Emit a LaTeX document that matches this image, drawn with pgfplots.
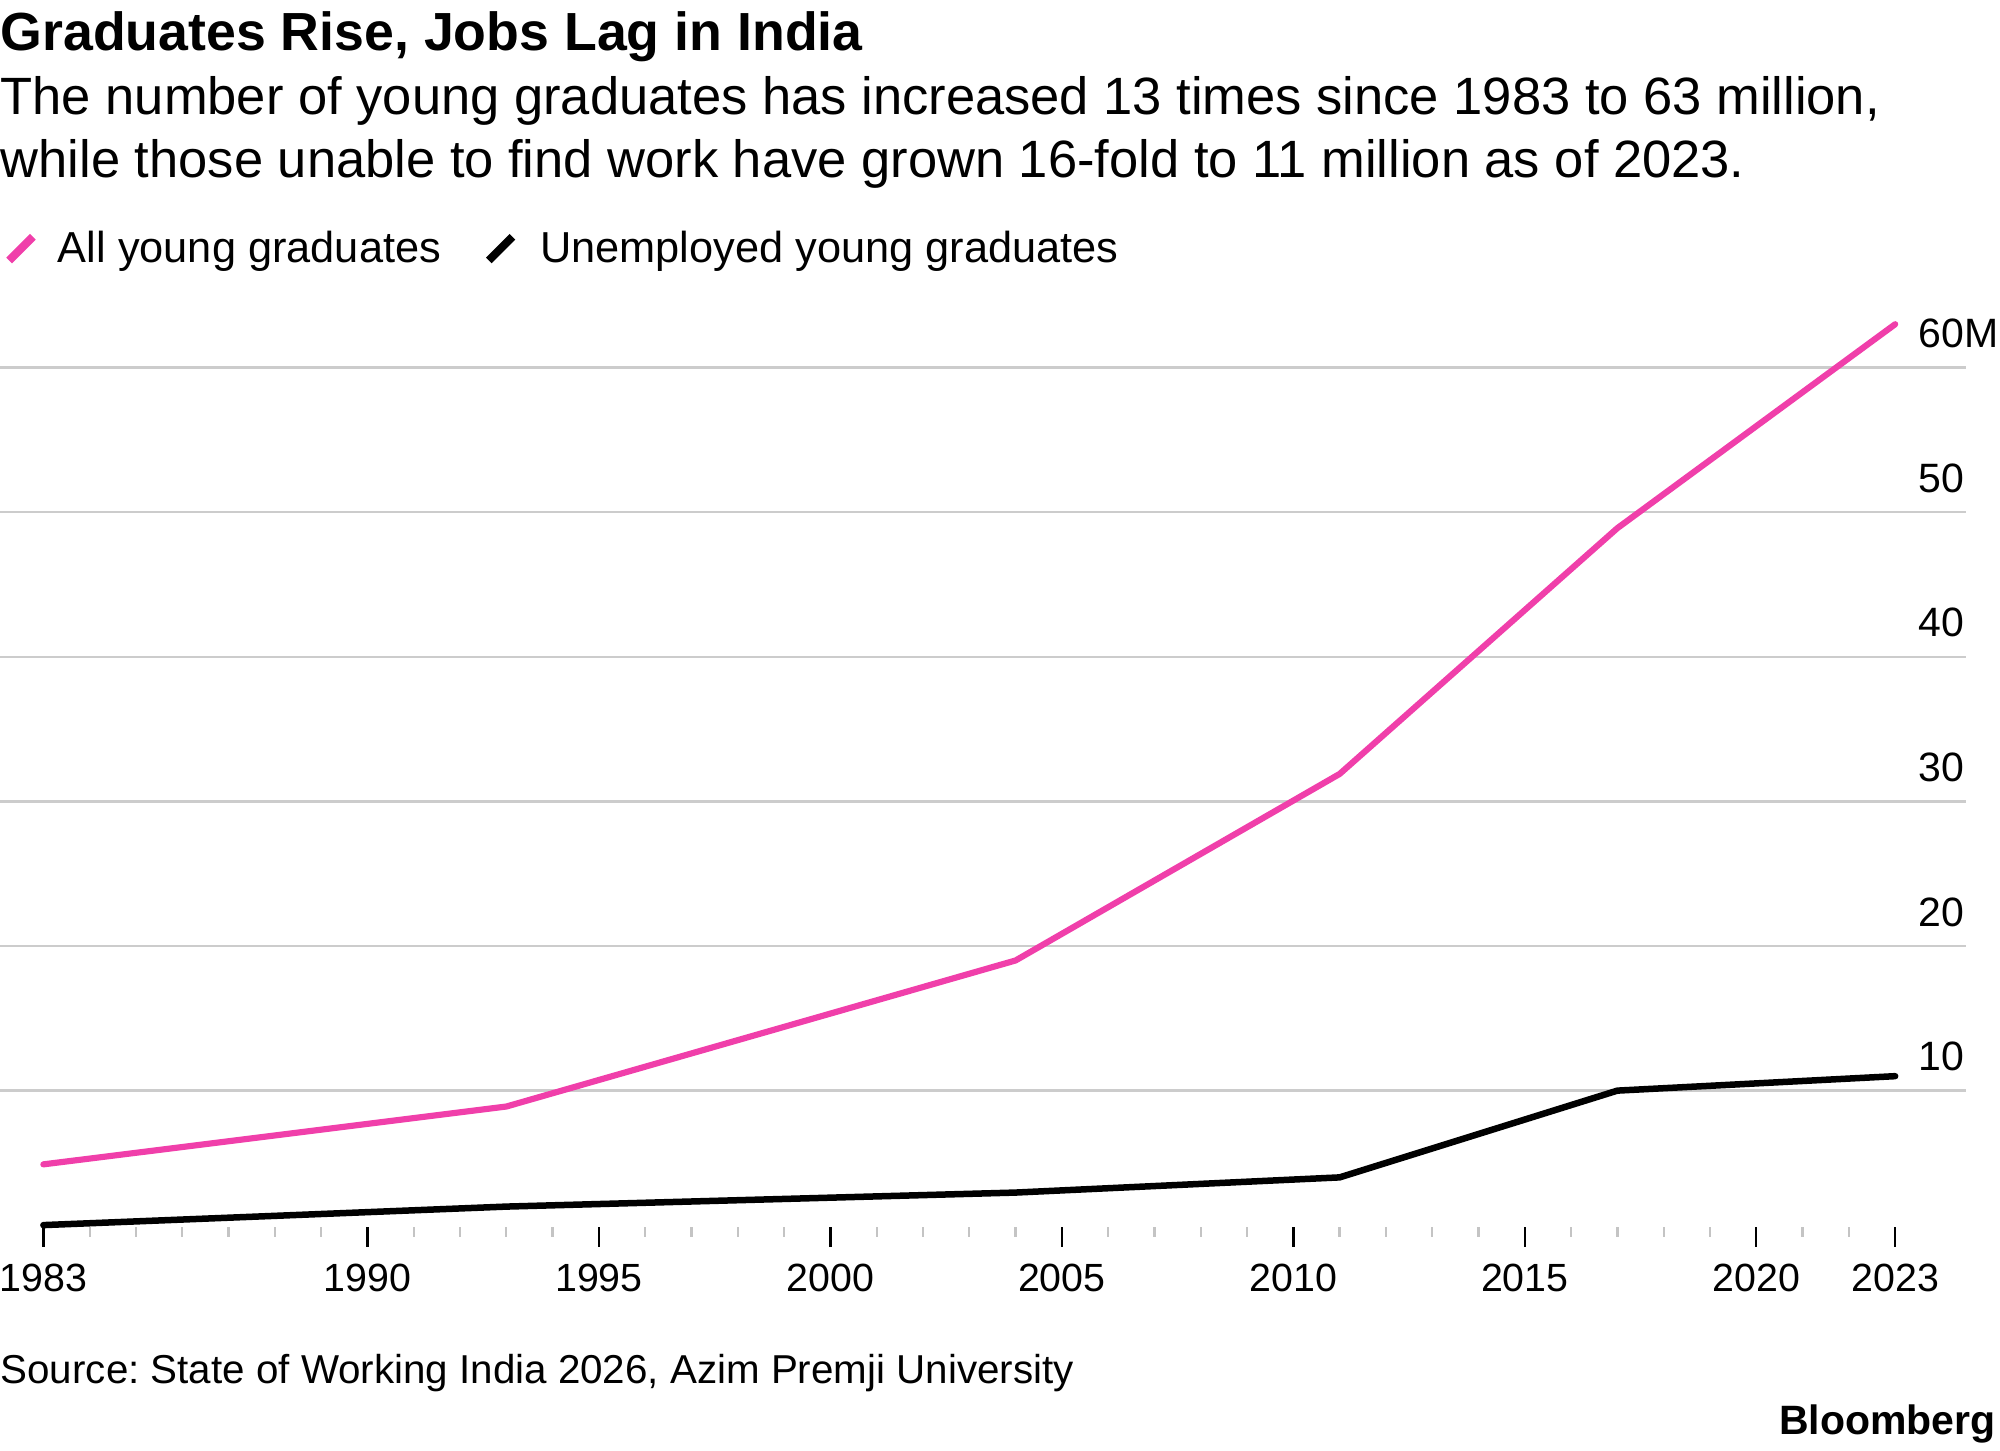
\documentclass[border=0pt]{standalone}
\usepackage{pgfplots}
\pgfplotsset{compat=1.18}
\usepackage{fontspec}
\setmainfont{Liberation Sans}
\frenchspacing
\definecolor{gpink}{HTML}{F03FAA}
\definecolor{gridgray}{HTML}{CCCCCC}
\definecolor{minorgray}{HTML}{C4C4C4}
\begin{document}
\begin{tikzpicture}
\path[use as bounding box] (0pt,-67.2pt) rectangle (600pt,368.1pt);
\begin{axis}[
  at={(0pt,0pt)}, anchor=south west,
  scale only axis, width=589.8pt, height=279.5pt,
  xmin=1982.063, xmax=2024.53, ymin=0.57, ymax=65,
  axis line style={draw=none},
  clip=false,
  xtick={1983,1990,1995,2000,2005,2010,2015,2020,2023},
  xticklabels={1983,1990,1995,2000,2005,2010,2015,2020,2023},
  minor xtick={1984,1985,1986,1987,1988,1989,1991,1992,1993,1994,1996,1997,1998,1999,2001,2002,2003,2004,2006,2007,2008,2009,2011,2012,2013,2014,2016,2017,2018,2019,2021,2022},
  xtick pos=bottom,
  tick align=outside,
  major tick length=6pt, minor tick length=3pt,
  xtick style={black, line width=0.7pt},
  minor x tick style={minorgray, line width=0.7pt},
  xticklabel style={anchor=base, inner sep=0pt, yshift=-13.3pt, font=\fontsize{11.8}{14}\selectfont},
  ytick={10,20,30,40,50,60},
  yticklabels={10,20,30,40,50,60M},
  yticklabel pos=right,
  ytick style={draw=none},
  yticklabel style={anchor=base west, inner sep=0pt, xshift=-20.4pt, yshift=6pt, font=\fontsize{12.3}{14}\selectfont},
  ymajorgrids, grid style={gridgray, line width=0.75pt},
  /pgf/number format/assume math mode=true,
]
\addplot[gpink, line width=1.85pt, line join=round, line cap=round] coordinates {
  (1983,4.9) (1993,8.9) (2004,19.0) (2011,31.9) (2017,48.9) (2023,63.0)};
\addplot[black, line width=1.95pt, line join=round, line cap=round] coordinates {
  (1983,0.7) (1993,1.98) (2004,2.95) (2011,4.0) (2017,10.0) (2023,11.0)};
\end{axis}
% title block
\node[anchor=base west, inner sep=0pt] at (0pt,352.8pt) {\fontsize{16.1}{19}\selectfont\bfseries Graduates Rise, Jobs Lag in India};
\node[anchor=base west, inner sep=0pt] at (0pt,333.7pt) {\fontsize{15.75}{18}\selectfont The number of young graduates has increased 13 times since 1983 to 63 million,};
\node[anchor=base west, inner sep=0pt] at (0pt,314.9pt) {\fontsize{15.75}{18}\selectfont while those unable to find work have grown 16-fold to 11 million as of 2023.};
% legend
\draw[gpink, line width=2.4pt] (2.75pt,289.95pt) -- (9.85pt,297.05pt);
\node[anchor=base west, inner sep=0pt] at (17.2pt,289.3pt) {\fontsize{13}{15}\selectfont All young graduates};
\draw[black, line width=2.4pt] (146.65pt,289.95pt) -- (153.75pt,297.05pt);
\node[anchor=base west, inner sep=0pt] at (161.9pt,289.3pt) {\fontsize{13}{15}\selectfont Unemployed young graduates};
% footer
\node[anchor=base west, inner sep=0pt] at (0pt,-47.1pt) {\fontsize{12.1}{15}\selectfont Source: State of Working India 2026, Azim Premji University};
\node[anchor=base east, inner sep=0pt] at (598.9pt,-62.4pt) {\fontsize{12.3}{15}\selectfont\bfseries Bloomberg};
\end{tikzpicture}
\end{document}
